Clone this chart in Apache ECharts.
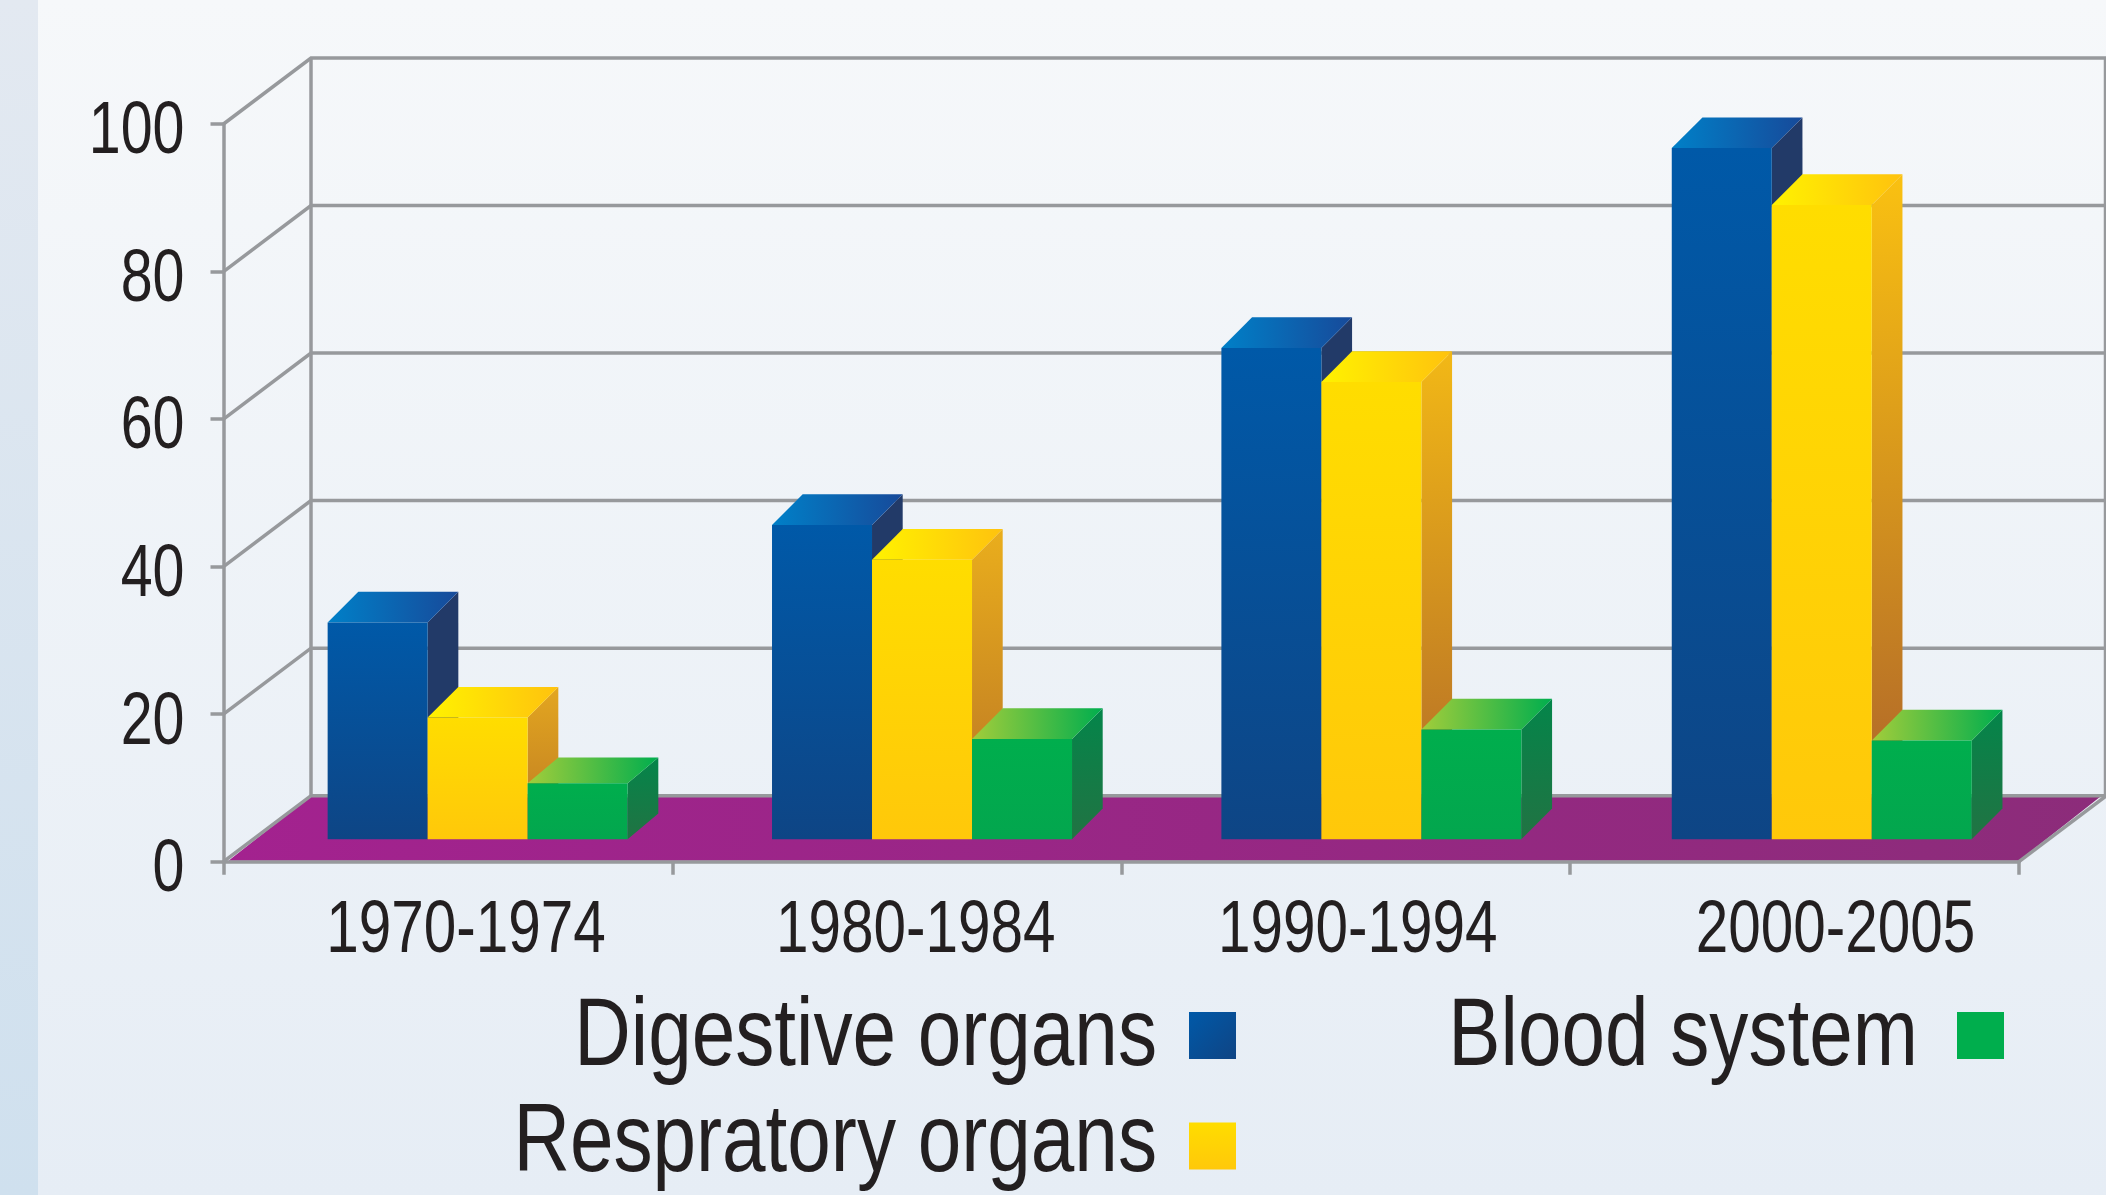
<!DOCTYPE html>
<html>
<head>
<meta charset="utf-8">
<title>Digestive, respiratory and blood system</title>
<script src="https://cdn.jsdelivr.net/npm/echarts@6/dist/echarts.min.js"></script>
<style>
  html, body { margin: 0; padding: 0; background: #eef2f7; }
  #myChart { width: 2106px; height: 1195px; }
</style>
</head>
<body>
<div id="myChart"></div>
<script>
var periods = ['1970-1974', '1980-1984', '1990-1994', '2000-2005'];
var digestive = [29.4, 42.6, 66.6, 93.7];
var respiratory = [16.5, 37.9, 62, 86];
var blood = [7.6, 13.6, 14.9, 13.4];
var yTicks = [0, 20, 40, 60, 80, 100];
var seriesNames = ['Digestive organs', 'Respratory organs', 'Blood system'];

var FONT = '"Liberation Sans", Arial, sans-serif';
var LINE = '#97999c';
var LINE_W = 3.5;
var TEXT = '#231f20';

// 3d look: the back wall sits up and right of the axes, bars stand part way in
var WALL_X = 87.5, WALL_Y = 66;
var BAR_X = 29.7, BAR_Y = 22.4;
var BAR_W = 100, DEPTH = 30.7;
var groupNudge = [0, -4.5, -4, -2.5];
var labelNudge = [18, 19, 12, 41];

// the type in the picture is squeezed sideways, no narrow font is installed
var TICK_SIZE = 74, Y_SQUEEZE = 0.775, X_SQUEEZE = 0.79;
var LEGEND_SIZE = 96;
var legendPlaces = [
  { textRight: 1157, textY: 1039, squeeze: 0.815, boxX: 1189, boxY: 1012 },
  { textRight: 1157, textY: 1145, squeeze: 0.815, boxX: 1189, boxY: 1122.5 },
  { textRight: 1918, textY: 1039, squeeze: 0.815, boxX: 1957, boxY: 1012 }
];

function grad(x2, y2, c1, c2) {
  return new echarts.graphic.LinearGradient(0, 0, x2, y2, [
    { offset: 0, color: c1 },
    { offset: 1, color: c2 }
  ]);
}

var skins = [
  {
    front: grad(0, 1, '#0059a8', '#0e4585'),
    top: grad(1, 0, '#0080c8', '#174a9a'),
    side: function () { return '#223a68'; },
    legend: grad(1, 1, '#0059a8', '#0f4484')
  },
  {
    front: grad(0, 1, '#ffdd00', '#ffc80a'),
    top: grad(1, 0, '#fff200', '#ffc20e'),
    side: function (v) {
      var t = v / 100;
      return grad(0, 1,
        echarts.color.lerp(t, ['#dda024', '#ffc60e']),
        echarts.color.lerp(t, ['#c07f20', '#a85c2d']));
    },
    legend: grad(0, 1, '#ffdd00', '#ffc80a')
  },
  {
    front: grad(0, 1, '#00ae4d', '#03a64e'),
    top: grad(1, 0, '#a2cd3a', '#00ae4e'),
    side: function () { return grad(0, 1, '#04854a', '#217343'); },
    legend: '#00ae4d'
  }
];

function barRenderer(slot) {
  return function (params, api) {
    var i = api.value(0), v = api.value(1);
    var base = api.coord([i, 0]);
    var head = api.coord([i, v]);
    var x = base[0] - 1.5 * BAR_W + BAR_X + groupNudge[i] + slot * BAR_W;
    var yb = base[1] - BAR_Y;
    var yt = head[1] - BAR_Y;
    var r = x + BAR_W;
    var skin = skins[slot];
    // first green block is drawn a little shallower in the picture
    var dy = (slot === 2 && i === 0) ? 25.7 : DEPTH;
    return {
      type: 'group',
      children: [
        {
          type: 'polygon',
          shape: { points: [[r, yt], [r + DEPTH, yt - dy], [r + DEPTH, yb - dy], [r, yb]] },
          style: { fill: skin.side(v) }
        },
        {
          type: 'polygon',
          shape: { points: [[x, yt], [x + DEPTH, yt - dy], [r + DEPTH, yt - dy], [r, yt]] },
          style: { fill: skin.top }
        },
        {
          type: 'rect',
          shape: { x: x, y: yt, width: BAR_W, height: yb - yt },
          style: { fill: skin.front }
        }
      ]
    };
  };
}

function wallRenderer(params, api) {
  var v = api.value(0);
  var p = api.coord([0, v]);
  var box = params.coordSys;
  var x0 = box.x, xr = box.x + box.width;
  var lineStyle = { stroke: LINE, lineWidth: LINE_W, fill: null };
  var kids = [{
    type: 'polyline',
    shape: { points: [[x0, p[1]], [x0 + WALL_X, p[1] - WALL_Y], [xr + WALL_X, p[1] - WALL_Y]] },
    style: lineStyle
  }];
  if (v === 0) {
    var top = api.coord([0, 100])[1] - WALL_Y;
    var by = p[1] - WALL_Y;
    kids.unshift({
      type: 'polygon',
      shape: { points: [[x0 + 5, p[1] - 1], [x0 + WALL_X, by], [xr + WALL_X - 5, by], [xr, p[1] - 1]] },
      style: { fill: grad(1, 0, '#a3228f', '#8c2c7a') }
    });
    kids.push({
      type: 'line',
      shape: { x1: x0 + WALL_X, y1: by, x2: x0 + WALL_X, y2: top },
      style: lineStyle
    });
    kids.push({
      type: 'line',
      shape: { x1: xr + WALL_X - 1, y1: by, x2: xr + WALL_X - 1, y2: top },
      style: lineStyle
    });
    kids.push({
      type: 'line',
      shape: { x1: xr, y1: p[1], x2: xr + WALL_X, y2: by },
      style: lineStyle
    });
  }
  return { type: 'group', children: kids };
}

function squeezedText(text, x, y, squeeze, size, align) {
  return {
    type: 'text',
    x: x,
    y: y,
    scaleX: squeeze,
    style: {
      text: text,
      x: 0,
      y: 0,
      fill: TEXT,
      fontSize: size,
      fontFamily: FONT,
      align: align,
      verticalAlign: 'middle'
    }
  };
}

function periodLabelRenderer(params, api) {
  var i = api.value(0);
  var p = api.coord([i, 0]);
  return squeezedText(periods[i], p[0] + labelNudge[i], p[1] + 70, X_SQUEEZE, TICK_SIZE, 'center');
}

function tickLabelRenderer(params, api) {
  var v = api.value(0);
  var p = api.coord([0, v]);
  return squeezedText(String(v), params.coordSys.x - 39, p[1] + 9, Y_SQUEEZE, TICK_SIZE, 'right');
}

function barSeries(name, values, slot) {
  return {
    name: name,
    type: 'custom',
    z: 3,
    clip: false,
    renderItem: barRenderer(slot),
    itemStyle: { color: skins[slot].legend },
    encode: { x: 0, y: 1 },
    data: values.map(function (v, i) { return [i, v]; })
  };
}

var graphics = [{
  type: 'rect',
  z: -1,
  shape: { x: 0, y: 0, width: 38, height: 1195 },
  style: { fill: grad(0, 1, '#e3e9f1', '#cfe0ee') }
}];
seriesNames.forEach(function (name, i) {
  var place = legendPlaces[i];
  graphics.push({
    type: 'rect',
    shape: { x: place.boxX, y: place.boxY, width: 47, height: 47 },
    style: { fill: skins[i].legend }
  });
  graphics.push(squeezedText(name, place.textRight, place.textY, place.squeeze, LEGEND_SIZE, 'right'));
});

var option = {
  backgroundColor: grad(0, 1, '#f6f8fa', '#e6edf5'),
  animation: false,
  graphic: graphics,
  grid: { left: 223.5, right: 87, top: 124, bottom: 333.3 },
  xAxis: {
    type: 'category',
    data: periods,
    z: 4,
    axisLine: { lineStyle: { color: LINE, width: LINE_W } },
    axisTick: { show: true, alignWithLabel: false, length: 13, lineStyle: { color: LINE, width: LINE_W } },
    axisLabel: { show: false },
    splitLine: { show: false }
  },
  yAxis: {
    type: 'value',
    min: 0,
    max: 100,
    interval: 20,
    z: 4,
    axisLine: { show: true, lineStyle: { color: LINE, width: LINE_W } },
    axisTick: { show: true, length: 13, lineStyle: { color: LINE, width: LINE_W } },
    axisLabel: { show: false },
    splitLine: { show: false }
  },
  series: [
    {
      name: 'wall',
      type: 'custom',
      z: 1,
      clip: false,
      renderItem: wallRenderer,
      encode: { y: 0 },
      data: yTicks.map(function (v) { return [v]; })
    },
    barSeries(seriesNames[0], digestive, 0),
    barSeries(seriesNames[1], respiratory, 1),
    barSeries(seriesNames[2], blood, 2),
    {
      name: 'periods',
      type: 'custom',
      z: 4,
      clip: false,
      renderItem: periodLabelRenderer,
      encode: { x: 0 },
      data: periods.map(function (p, i) { return [i]; })
    },
    {
      name: 'ticks',
      type: 'custom',
      z: 4,
      clip: false,
      renderItem: tickLabelRenderer,
      encode: { y: 0 },
      data: yTicks.map(function (v) { return [v]; })
    }
  ]
};

var myChart = echarts.init(document.getElementById('myChart'));
myChart.setOption(option);
</script>
</body>
</html>
